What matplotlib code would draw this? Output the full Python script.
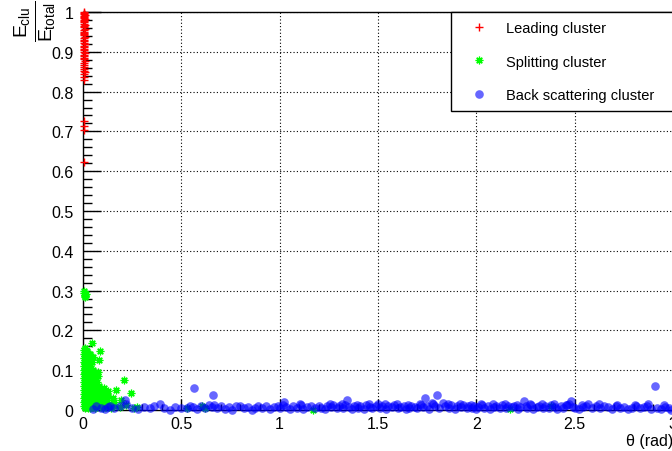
import matplotlib
matplotlib.use("Agg")
import matplotlib.pyplot as plt
from matplotlib.ticker import MultipleLocator

plt.rcParams['font.family'] = ['Liberation Sans', 'DejaVu Sans']
plt.rcParams['mathtext.fontset'] = 'custom'
plt.rcParams['mathtext.rm'] = 'Liberation Sans'
plt.rcParams['mathtext.it'] = 'Liberation Sans'
plt.rcParams['mathtext.bf'] = 'Liberation Sans:bold'

# Leading cluster: energy fraction vs. polar angle
lead_theta = [0.004, 0.006, 0.003, 0.008, 0.005, 0.007, 0.004, 0.009, 0.006, 0.003,
              0.007, 0.005, 0.008, 0.004, 0.006, 0.009, 0.003, 0.007, 0.005, 0.006,
              0.004, 0.008, 0.006, 0.003, 0.007, 0.005, 0.009, 0.004, 0.006, 0.007,
              0.003, 0.005, 0.008, 0.006, 0.004, 0.007, 0.005, 0.009, 0.006, 0.004,
              0.007, 0.005, 0.006, 0.008, 0.004, 0.006, 0.005, 0.007, 0.004, 0.006,
              0.005]
lead_frac = [0.999, 0.997, 0.995, 0.993, 0.990, 0.988, 0.985, 0.983, 0.980, 0.977,
             0.974, 0.971, 0.968, 0.965, 0.962, 0.958, 0.955, 0.951, 0.948, 0.944,
             0.941, 0.937, 0.934, 0.930, 0.926, 0.922, 0.919, 0.915, 0.911, 0.907,
             0.904, 0.900, 0.897, 0.893, 0.889, 0.885, 0.882, 0.878, 0.872, 0.866,
             0.861, 0.857, 0.853, 0.849, 0.845, 0.836, 0.830, 0.725, 0.714, 0.703,
             0.622]

# Splitting cluster
split_theta = [0.003, 0.003, 0.003, 0.003, 0.003, 0.003, 0.003, 0.003, 0.003, 0.003, 0.003, 0.003, 0.003, 0.003, 0.003,
               0.010, 0.010, 0.010, 0.010, 0.010, 0.010, 0.010, 0.010, 0.010, 0.010, 0.010, 0.010, 0.010, 0.010,
               0.018, 0.018, 0.018, 0.018, 0.018, 0.018, 0.018, 0.018, 0.018, 0.018, 0.018, 0.018, 0.018,
               0.026, 0.026, 0.026, 0.026, 0.026, 0.026, 0.026, 0.026, 0.026, 0.026, 0.026, 0.026, 0.026,
               0.034, 0.034, 0.034, 0.034, 0.034, 0.034, 0.034, 0.034, 0.034, 0.034, 0.034,
               0.043, 0.043, 0.043, 0.043, 0.043, 0.043, 0.043, 0.043,
               0.052, 0.052, 0.052, 0.052, 0.052, 0.052,
               0.062, 0.062, 0.062, 0.062, 0.062,
               0.072, 0.072, 0.072, 0.072,
               0.085, 0.085, 0.085,
               0.100, 0.100, 0.100,
               0.115, 0.115,
               0.140, 0.140,
               0.050, 0.060, 0.055, 0.070, 0.065, 0.080, 0.090, 0.100, 0.110, 0.120,
               0.130, 0.095, 0.075, 0.045, 0.038, 0.050, 0.160, 0.105, 0.118, 0.150,
               0.044, 0.086, 0.081, 0.075, 0.208, 0.086, 0.127, 0.170, 0.243, 0.194,
               0.274, 0.260, 0.127, 0.160, 0.220, 0.190,
               0.005, 0.012, 0.008, 0.015, 0.006, 0.010,
               0.530, 0.605, 0.620, 1.170, 2.170, 2.380]
split_frac = [0.150, 0.140, 0.130, 0.120, 0.110, 0.100, 0.090, 0.080, 0.070, 0.060, 0.050, 0.040, 0.030, 0.020, 0.010,
              0.155, 0.135, 0.118, 0.104, 0.092, 0.081, 0.070, 0.060, 0.050, 0.041, 0.032, 0.023, 0.014, 0.006,
              0.148, 0.126, 0.110, 0.097, 0.085, 0.074, 0.064, 0.055, 0.046, 0.037, 0.028, 0.019, 0.010,
              0.140, 0.115, 0.100, 0.088, 0.076, 0.066, 0.057, 0.048, 0.039, 0.030, 0.021, 0.012, 0.004,
              0.128, 0.094, 0.080, 0.068, 0.058, 0.049, 0.040, 0.031, 0.022, 0.013, 0.005,
              0.105, 0.070, 0.058, 0.047, 0.036, 0.026, 0.016, 0.008,
              0.082, 0.060, 0.045, 0.033, 0.022, 0.012,
              0.064, 0.040, 0.028, 0.015, 0.006,
              0.050, 0.032, 0.018, 0.009,
              0.038, 0.022, 0.010,
              0.028, 0.014, 0.005,
              0.020, 0.008,
              0.012, 0.004,
              0.100, 0.090, 0.075, 0.070, 0.055, 0.060, 0.045, 0.040, 0.030, 0.025,
              0.015, 0.020, 0.085, 0.120, 0.140, 0.132, 0.010, 0.055, 0.045, 0.030,
              0.168, 0.148, 0.126, 0.095, 0.075, 0.053, 0.048, 0.050, 0.043, 0.025,
              0.008, 0.005, 0.035, 0.020, 0.012, 0.008,
              0.295, 0.290, 0.283, 0.292, 0.300, 0.286,
              0.005, 0.010, 0.004, 0.001, 0.003, 0.010]

# Back scattering cluster
back_theta = [0.050, 0.066, 0.090, 0.110, 0.125, 0.137, 0.160, 0.188, 0.213, 0.220, 0.250, 0.280,
              0.310, 0.340, 0.360, 0.390, 0.410, 0.440, 0.470, 0.500, 0.530, 0.545, 0.560, 0.565, 0.580, 0.600,
              0.620, 0.640, 0.655, 0.660, 0.665, 0.680, 0.700, 0.720, 0.740, 0.760, 0.780, 0.800, 0.820, 0.840, 0.860, 0.875, 0.890,
              0.910, 0.930, 0.950, 0.970, 0.990, 1.000, 1.020, 1.030, 1.050, 1.070, 1.090, 1.110, 1.120, 1.140, 1.160, 1.180, 1.200,
              1.210, 1.230, 1.240, 1.260, 1.270, 1.290, 1.300, 1.320, 1.330, 1.340, 1.350, 1.370, 1.380, 1.400, 1.410, 1.430, 1.440, 1.460, 1.470, 1.490, 1.500,
              1.510, 1.520, 1.540, 1.550, 1.570, 1.580, 1.600, 1.610, 1.630, 1.640, 1.660, 1.670, 1.690, 1.700, 1.720, 1.730, 1.740, 1.750, 1.760, 1.780, 1.790, 1.800, 1.810, 1.830, 1.840,
              1.860, 1.870, 1.890, 1.900, 1.920, 1.930, 1.950, 1.960, 1.980, 1.990, 2.000, 2.010, 2.030, 2.040, 2.060, 2.070, 2.090, 2.100,
              2.120, 2.130, 2.150, 2.160, 2.180, 2.190, 2.210, 2.220, 2.240, 2.250, 2.260, 2.280, 2.290, 2.310, 2.320, 2.340, 2.350, 2.370, 2.380, 2.400, 2.410, 2.430, 2.440, 2.460, 2.470, 2.480, 2.490, 2.500,
              2.520, 2.540, 2.560, 2.570, 2.590, 2.610, 2.630, 2.650, 2.670, 2.690, 2.710, 2.730, 2.750, 2.770, 2.790, 2.810, 2.830, 2.850, 2.870, 2.890, 2.910, 2.920, 2.940, 2.960, 2.980, 2.990,
              1.015, 1.105, 1.255, 1.315, 1.395, 1.455, 1.535, 1.595, 1.655, 1.715, 1.775, 1.855, 1.915, 1.975, 2.025, 2.085,
              2.145, 2.205, 2.275, 2.335, 2.395, 2.455, 2.535, 2.625, 2.715, 2.805, 2.875, 2.955]
back_frac = [0.003, 0.010, 0.006, 0.002, 0.008, 0.010, 0.004, 0.010, 0.025, 0.015, 0.006, 0.003,
             0.008, 0.005, 0.011, 0.015, 0.006, 0.000, 0.008, 0.004, 0.005, 0.011, 0.007, 0.055, 0.003, 0.009,
             0.006, 0.012, 0.008, 0.038, 0.012, 0.004, 0.009, 0.002, 0.007, 0.000, 0.010, 0.010, 0.004, 0.008, 0.001, 0.006, 0.010,
             0.005, 0.009, 0.002, 0.007, 0.011, 0.004, 0.020, 0.008, 0.003, 0.010, 0.006, 0.012, 0.002, 0.007, 0.009, 0.004, 0.011,
             0.006, 0.003, 0.009, 0.007, 0.012, 0.004, 0.010, 0.006, 0.013, 0.025, 0.008, 0.003, 0.011, 0.006, 0.009, 0.002, 0.012, 0.007, 0.004, 0.010, 0.014,
             0.005, 0.009, 0.003, 0.011, 0.007, 0.012, 0.004, 0.008, 0.010, 0.002, 0.006, 0.011, 0.008, 0.004, 0.012, 0.007, 0.030, 0.010, 0.003, 0.014, 0.009, 0.038, 0.005, 0.018, 0.011,
             0.006, 0.012, 0.003, 0.009, 0.007, 0.013, 0.004, 0.010, 0.006, 0.011, 0.003, 0.008, 0.012, 0.005, 0.009, 0.002, 0.007, 0.011,
             0.006, 0.012, 0.004, 0.009, 0.007, 0.011, 0.003, 0.008, 0.023, 0.010, 0.005, 0.012, 0.002, 0.007, 0.010, 0.004, 0.011, 0.006, 0.013, 0.008, 0.003, 0.010, 0.006, 0.012, 0.015, 0.023, 0.008, 0.004,
             0.002, 0.008, 0.011, 0.014, 0.006, 0.009, 0.004, 0.010, 0.007, 0.003, 0.009, 0.005, 0.008, 0.002, 0.006, 0.010, 0.004, 0.007, 0.011, 0.003, 0.060, 0.006, 0.002, 0.008, 0.004, 0.001,
             0.013, 0.015, 0.014, 0.016, 0.013, 0.015, 0.014, 0.016, 0.013, 0.015, 0.017, 0.014, 0.016, 0.013, 0.015, 0.014,
             0.016, 0.013, 0.015, 0.014, 0.016, 0.013, 0.012, 0.014, 0.013, 0.012, 0.014, 0.012]

TICK_SIZE = 11.5
LEGEND_SIZE = 10.5

fig = plt.figure(figsize=(6.72, 4.52), dpi=100)
ax = fig.add_axes([83 / 672, 41 / 452, 590 / 672, 398 / 452])

ax.plot(split_theta, split_frac, linestyle='none', marker=(8, 2, 0), markersize=5.5,
        color='#00ff00', markeredgewidth=0.9, clip_on=False,
        label='Splitting cluster', zorder=3)
ax.plot(back_theta, back_frac, linestyle='none', marker='o', markersize=6.2,
        color='blue', alpha=0.6, markeredgewidth=0, clip_on=False,
        label='Back scattering cluster', zorder=4)
ax.plot(lead_theta, lead_frac, linestyle='none', marker='+', markersize=6,
        color='red', markeredgewidth=1.0, clip_on=False,
        label='Leading cluster', zorder=5)

ax.set_xlim(0, 3)
ax.set_ylim(0, 1)
ax.xaxis.set_major_locator(MultipleLocator(0.5))
ax.xaxis.set_minor_locator(MultipleLocator(0.1))
ax.yaxis.set_major_locator(MultipleLocator(0.1))
ax.yaxis.set_minor_locator(MultipleLocator(0.02))
ax.xaxis.set_major_formatter(plt.FuncFormatter(lambda v, p: f'{v:g}'))
ax.yaxis.set_major_formatter(plt.FuncFormatter(lambda v, p: f'{v:g}'))

ax.tick_params(axis='both', which='both', direction='in', colors='black',
               labelsize=TICK_SIZE, top=False, right=False)
ax.tick_params(axis='y', which='major', length=13, width=1, pad=7)
ax.tick_params(axis='y', which='minor', length=6.5, width=1)
ax.tick_params(axis='x', which='major', length=8, width=1, pad=4)
ax.tick_params(axis='x', which='minor', length=4, width=1)

ax.grid(True, which='major', color='black', linestyle=(0, (1, 2)), linewidth=0.8)
ax.set_axisbelow(True)
for side in ['left', 'bottom', 'top', 'right']:
    ax.spines[side].set_linewidth(1)
    ax.spines[side].set_color('black')

ax.set_xlabel(r'θ (rad)', fontsize=TICK_SIZE, loc='right', labelpad=2)
fig.text(0.052, 0.998, r'$\frac{E_{clu}}{E_{total}}$', rotation=90,
         ha='center', va='top', fontsize=20)

handles, labels = ax.get_legend_handles_labels()
order = [2, 0, 1]
leg = ax.legend([handles[i] for i in order], [labels[i] for i in order],
                loc='upper left', bbox_to_anchor=(0.624, 0.0, 0.39, 1.0),
                mode='expand', fontsize=LEGEND_SIZE,
                frameon=True, fancybox=False, framealpha=1, edgecolor='black',
                borderpad=0.62, labelspacing=1.34, handlelength=2.6,
                handletextpad=0.55, numpoints=1, borderaxespad=0)
leg.get_frame().set_linewidth(1)

fig.savefig('out.png', dpi=100)
